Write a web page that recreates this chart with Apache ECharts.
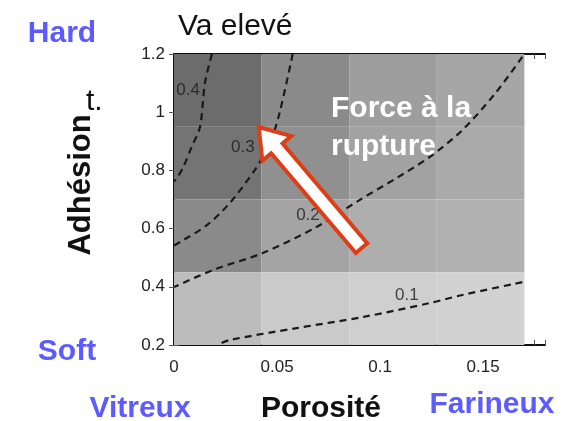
<!DOCTYPE html>
<html>
<head>
<meta charset="utf-8">
<script src="https://cdn.jsdelivr.net/npm/echarts@6/dist/echarts.min.js"></script>
<style>
  html, body { margin: 0; padding: 0; background: #fff; }
  #chart { width: 576px; height: 421px; }
</style>
</head>
<body>
<div id="chart"></div>
<script>
// cell grid (porosity columns x adhesion rows)
const xEdges = [0, 0.0425, 0.085, 0.1275, 0.17]
const yEdges = [1.2, 0.95, 0.7, 0.45, 0.2]
// grey level of each cell, rows from top to bottom
const cellGrey = [
  [108, 138, 158, 166],
  [116, 144, 162, 170],
  [138, 164, 174, 176],
  [188, 202, 207, 210],
]

// dashed iso-lines of "force à la rupture"
const contour04 = [[0.0184, 1.2], [0.015, 1.1], [0.0126, 0.949], [0.0085, 0.88], [0.0044, 0.81], [0.0015, 0.775], [0, 0.762]]
const contour03 = [[0.0576, 1.2], [0.0513, 1.0], [0.047, 0.9], [0.0425, 0.84], [0.0392, 0.801], [0.0271, 0.688], [0.016, 0.612], [0.0044, 0.56], [0, 0.542]]
const contour02 = [[0.169, 1.19], [0.156, 1.066], [0.14, 0.939], [0.124, 0.846], [0.108, 0.774], [0.09, 0.698], [0.069, 0.605], [0.043, 0.516], [0.019, 0.458], [0, 0.399]]
const contour01 = [[0.169, 0.416], [0.14, 0.372], [0.124, 0.344], [0.0915, 0.296], [0.0595, 0.258], [0.027, 0.217], [0.021, 0.2]]

const contourLabels = ['0.4', '0.3', '0.2', '0.1']
const contourLabelX = [0.0068, 0.0334, 0.065, 0.113]
const contourLabelY = [1.076, 0.88, 0.647, 0.372]

// arrow: tail -> tip
const arrowTail = [0.091, 0.533]
const arrowTip = [0.0411, 0.949]

const font = 'Liberation Sans, Arial, sans-serif'
const blue = '#5b5bff'

const cells = []
cellGrey.forEach((row, r) => {
  row.forEach((g, c) => {
    cells.push([xEdges[c], xEdges[c + 1], yEdges[r + 1], yEdges[r], g])
  })
})

function dashed(data) {
  return {
    type: 'line',
    data,
    showSymbol: false,
    symbol: 'none',
    smooth: 0.3,
    lineStyle: { color: '#1a1a1a', width: 2.2, type: [7, 5] },
    z: 3,
    silent: true,
  }
}

function label(text, x, y, color, size, bold, align) {
  return {
    type: 'text', x, y, z: 10,
    style: {
      text, fill: color, font: `${bold ? 'bold ' : ''}${size}px ${font}`,
      align: align || 'center', verticalAlign: 'middle',
    },
  }
}

const chart = echarts.init(document.getElementById('chart'))

chart.setOption({
  backgroundColor: '#fff',
  animation: false,
  grid: { left: 174, right: 31, top: 54, bottom: 76 },
  xAxis: [
    {
      type: 'value', min: 0, max: 0.18, interval: 0.025,
      axisLine: { show: true, lineStyle: { color: '#111', width: 2 } },
      axisTick: { inside: true, length: 5, lineStyle: { color: '#555' } },
      axisLabel: {
        margin: 14, color: '#222', fontSize: 17, fontFamily: font,
        formatter: (v) => (Math.abs(v / 0.05 - Math.round(v / 0.05)) < 1e-6 && v < 0.17 ? String(+v.toFixed(3)) : ''),
      },
      splitLine: { show: false },
    },
    {
      type: 'value', position: 'top', min: 0, max: 0.18, interval: 0.025,
      axisLine: { show: true, lineStyle: { color: '#111', width: 2 } },
      axisTick: { inside: true, length: 5, lineStyle: { color: '#555' } },
      axisLabel: { show: false },
      splitLine: { show: false },
    },
  ],
  yAxis: [
    {
      type: 'value', min: 0.2, max: 1.2, interval: 0.2,
      axisLine: { show: true, lineStyle: { color: '#111', width: 2 } },
      axisTick: { inside: true, length: 5, lineStyle: { color: '#555' } },
      axisLabel: {
        margin: 9, color: '#222', fontSize: 17, fontFamily: font,
        formatter: (v) => String(+v.toFixed(2)),
      },
      splitLine: { show: false },
    },
    {
      type: 'value', position: 'right', min: 0.2, max: 1.2, interval: 0.2,
      axisLine: { show: true, lineStyle: { color: '#111', width: 2 } },
      axisTick: { inside: true, length: 5, lineStyle: { color: '#555' } },
      axisLabel: { show: false },
      splitLine: { show: false },
    },
  ],
  series: [
    {
      type: 'custom',
      data: cells,
      clip: true,
      silent: true,
      z: 1,
      renderItem: (params, api) => {
        const p0 = api.coord([api.value(0), api.value(3)])
        const p1 = api.coord([api.value(1), api.value(2)])
        const g = api.value(4)
        return {
          type: 'rect',
          shape: { x: p0[0], y: p0[1], width: p1[0] - p0[0], height: p1[1] - p0[1] },
          style: { fill: `rgb(${g},${g},${g})` },
        }
      },
    },
    dashed(contour04),
    dashed(contour03),
    dashed(contour02),
    dashed(contour01),
    {
      type: 'scatter',
      data: contourLabels.map((t, i) => ({ value: [contourLabelX[i], contourLabelY[i]], name: t })),
      symbolSize: 0,
      silent: true,
      z: 4,
      label: {
        show: true, position: 'inside', formatter: '{b}',
        color: '#1a1a1a', fontSize: 17, fontFamily: font,
      },
    },
    {
      type: 'custom',
      data: [[arrowTail[0], arrowTail[1], arrowTip[0], arrowTip[1]]],
      silent: true,
      z: 5,
      renderItem: (params, api) => {
        const t = api.coord([api.value(0), api.value(1)])
        const h = api.coord([api.value(2), api.value(3)])
        const dx = h[0] - t[0], dy = h[1] - t[1]
        const len = Math.sqrt(dx * dx + dy * dy)
        const ux = dx / len, uy = dy / len
        const nx = -uy, ny = ux
        const shaft = 7.5, head = 19, headLen = 28
        const bx = h[0] - ux * headLen, by = h[1] - uy * headLen
        const pts = [
          [t[0] + nx * shaft, t[1] + ny * shaft],
          [bx + nx * shaft, by + ny * shaft],
          [bx + nx * head, by + ny * head],
          [h[0], h[1]],
          [bx - nx * head, by - ny * head],
          [bx - nx * shaft, by - ny * shaft],
          [t[0] - nx * shaft, t[1] - ny * shaft],
        ]
        return {
          type: 'polygon',
          shape: { points: pts },
          style: { fill: '#fff', stroke: '#dc3f17', lineWidth: 4, lineJoin: 'miter' },
        }
      },
    },
  ],
  graphic: [
    label('Force à la', 331, 109, '#fff', 30, true, 'left'),
    label('rupture', 331, 147, '#fff', 30, true, 'left'),
    label('Va elevé', 178, 27, '#111', 30, false, 'left'),
    label('Hard', 62, 34, blue, 30, true),
    label('t.', 86, 102, '#111', 30, false, 'left'),
    label('Soft', 67, 352, blue, 30, true),
    {
      type: 'text', x: 81, y: 185, rotation: Math.PI / 2, z: 10,
      style: { text: 'Adhésion', fill: '#111', font: `bold 31px ${font}`, align: 'center', verticalAlign: 'middle' },
    },
    label('Vitreux', 140, 409, blue, 30, true),
    label('Porosité', 321, 409, '#111', 30, true),
    label('Farineux', 492, 405, blue, 30, true),
  ],
})
</script>
</body>
</html>
